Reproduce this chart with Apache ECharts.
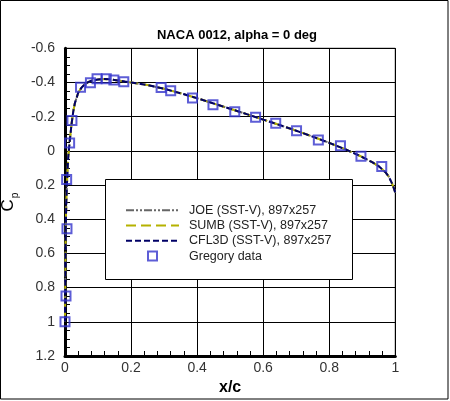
<!DOCTYPE html>
<html>
<head>
<meta charset="utf-8">
<script src="https://cdn.jsdelivr.net/npm/echarts@6/dist/echarts.min.js"></script>
<style>
  html, body { margin: 0; padding: 0; background: #fff; }
  #chart { width: 450px; height: 401px; }
</style>
</head>
<body>
<div id="chart"></div>
<script>
// CFD surface pressure, NACA 0012 at alpha = 0
const xCurve = [0, 0.0005, 0.001, 0.002, 0.003, 0.004, 0.005, 0.0075, 0.01, 0.0125, 0.015, 0.02, 0.025, 0.03,
    0.04, 0.05, 0.06, 0.07, 0.08, 0.09, 0.1, 0.12, 0.14, 0.16, 0.18, 0.2, 0.25, 0.3, 0.35, 0.4, 0.45, 0.5,
    0.55, 0.6, 0.65, 0.7, 0.75, 0.8, 0.85, 0.9, 0.93, 0.95, 0.97, 0.98, 0.99, 0.995, 1];
const cpJoe = [1.0, 0.88, 0.76, 0.52, 0.38, 0.3, 0.24, 0.12, 0.03, -0.02, -0.07, -0.16, -0.23, -0.28,
    -0.34, -0.37, -0.39, -0.402, -0.41, -0.415, -0.418, -0.42, -0.418, -0.412, -0.406, -0.4, -0.385, -0.363, -0.337, -0.308, -0.277, -0.246,
    -0.215, -0.183, -0.151, -0.118, -0.083, -0.047, -0.008, 0.036, 0.066, 0.09, 0.125, 0.15, 0.19, 0.215, 0.245];
const cpSumb = [1.0, 0.88, 0.76, 0.52, 0.38, 0.3, 0.24, 0.12, 0.03, -0.02, -0.07, -0.16, -0.23, -0.28,
    -0.34, -0.37, -0.39, -0.402, -0.41, -0.415, -0.418, -0.42, -0.418, -0.412, -0.406, -0.4, -0.385, -0.363, -0.337, -0.308, -0.277, -0.246,
    -0.215, -0.183, -0.151, -0.118, -0.083, -0.047, -0.008, 0.036, 0.066, 0.09, 0.125, 0.15, 0.19, 0.215, 0.245];
const cpCfl3d = [1.0, 0.88, 0.76, 0.52, 0.38, 0.3, 0.24, 0.12, 0.03, -0.02, -0.07, -0.16, -0.23, -0.28,
    -0.34, -0.37, -0.39, -0.402, -0.41, -0.415, -0.418, -0.42, -0.418, -0.412, -0.406, -0.4, -0.385, -0.363, -0.337, -0.308, -0.277, -0.246,
    -0.215, -0.183, -0.151, -0.118, -0.083, -0.047, -0.008, 0.036, 0.066, 0.09, 0.125, 0.15, 0.19, 0.215, 0.245];

// experiment
const xGregory = [0.0, 0.003, 0.006, 0.005, 0.014, 0.021, 0.047, 0.077, 0.097, 0.125, 0.148, 0.178,
    0.291, 0.32, 0.386, 0.448, 0.514, 0.577, 0.638, 0.701, 0.767, 0.834, 0.896, 0.959];
const cpGregory = [1.0, 0.849, 0.455, 0.168, -0.046, -0.177, -0.372, -0.399, -0.422, -0.422, -0.415, -0.405,
    -0.37, -0.352, -0.309, -0.27, -0.229, -0.196, -0.161, -0.118, -0.064, -0.03, 0.032, 0.092];

const xTicks = [0, 0.2, 0.4, 0.6, 0.8, 1];
const cpTicks = [-0.6, -0.4, -0.2, 0, 0.2, 0.4, 0.6, 0.8, 1, 1.2];

const names = ['JOE (SST-V), 897x257', 'SUMB (SST-V), 897x257', 'CFL3D (SST-V), 897x257', 'Gregory data'];

const pairs = (xs, ys) => xs.map((x, i) => [x, ys[i]]);
const fmt = v => String(+v.toFixed(1));
const font = '"Liberation Sans", Arial, sans-serif';
const hideDot = { opacity: 0 };

const chart = echarts.init(document.getElementById('chart'), null, { renderer: 'canvas' });

chart.setOption({
    animation: false,
    backgroundColor: '#fff',
    title: {
        text: 'NACA 0012, alpha = 0 deg',
        left: 232, top: 24, textAlign: 'center',
        textStyle: { fontFamily: font, fontSize: 13, fontWeight: 'bold', color: '#000' }
    },
    grid: {
        left: 65, right: 54.7, top: 48.3, bottom: 45, containLabel: false, outerBoundsMode: 'none',
        show: true, borderColor: '#000', borderWidth: 1
    },
    xAxis: {
        type: 'value', min: xTicks[0], max: xTicks[xTicks.length - 1], interval: 0.2,
        name: 'x/c', nameLocation: 'middle', nameGap: 19,
        nameTextStyle: { fontFamily: font, fontSize: 16, fontWeight: 'bold', color: '#000' },
        axisLine: { onZero: false, lineStyle: { color: '#000', width: 3 } },
        axisTick: { inside: true, length: 7, lineStyle: { color: '#000', width: 1 } },
        minorTick: { show: true, splitNumber: 5, length: 5, lineStyle: { color: '#000', width: 1 } },
        splitLine: { show: true, lineStyle: { color: '#000', width: 1 } },
        axisLabel: { margin: 5, fontFamily: font, fontSize: 14, color: '#333', formatter: fmt }
    },
    yAxis: {
        type: 'value', min: cpTicks[0], max: cpTicks[cpTicks.length - 1], interval: 0.2, inverse: true,
        name: '{c|C}{p|p}', nameLocation: 'middle', nameGap: 46, nameRotate: 90,
        nameTextStyle: {
            fontFamily: font, color: '#000',
            rich: {
                c: { fontFamily: font, fontSize: 17, color: '#000' },
                p: { fontFamily: font, fontSize: 10, color: '#000', verticalAlign: 'bottom', padding: [0, 0, -3, 1] }
            }
        },
        axisLine: { onZero: false, lineStyle: { color: '#000', width: 3 } },
        axisTick: { inside: true, length: 7, lineStyle: { color: '#000', width: 1 } },
        minorTick: { show: true, splitNumber: 4, length: 5, lineStyle: { color: '#000', width: 1 } },
        splitLine: { show: true, lineStyle: { color: '#000', width: 1 } },
        axisLabel: { margin: 10, fontFamily: font, fontSize: 14, color: '#333', formatter: fmt }
    },
    legend: {
        orient: 'vertical', left: 125, top: 203.5, itemGap: 2, padding: 0,
        itemWidth: 53, itemHeight: 9, z: 5,
        textStyle: { fontFamily: font, fontSize: 12.5, lineHeight: 13.3, color: '#222', padding: [0, 0, 0, 5] },
        data: [
            { name: names[0], itemStyle: hideDot },
            { name: names[1], itemStyle: hideDot },
            { name: names[2], itemStyle: hideDot },
            { name: names[3], icon: 'path://M0,0L10,0L10,10L0,10Z' }
        ]
    },
    graphic: [
        { type: 'rect', z: 4, shape: { x: 105.5, y: 179.5, width: 247, height: 100 },
          style: { fill: '#fff', stroke: '#000', lineWidth: 1 } },
        { type: 'rect', z: 4, silent: true, shape: { x: 0.5, y: 0.5, width: 447.5, height: 398.5 },
          style: { fill: 'none', stroke: '#000', lineWidth: 1 } }
    ],
    series: [
        {
            name: names[0], type: 'line', data: pairs(xCurve, cpJoe), symbol: 'none', z: 2,
            lineStyle: { color: '#666', width: 2, type: [8, 2, 2, 2, 2, 2] }, itemStyle: { color: '#666' }
        },
        {
            name: names[1], type: 'line', data: pairs(xCurve, cpSumb), symbol: 'none', z: 2,
            lineStyle: { color: '#b5b200', width: 2, type: [10, 5] }, itemStyle: { color: '#b5b200' }
        },
        {
            name: names[2], type: 'line', data: pairs(xCurve, cpCfl3d), symbol: 'none', z: 3,
            lineStyle: { color: '#000066', width: 2, type: [6, 3] }, itemStyle: { color: '#000066' }
        },
        {
            name: names[3], type: 'scatter', data: pairs(xGregory, cpGregory), z: 3,
            symbol: 'rect', symbolSize: 9,
            itemStyle: { color: 'rgba(0,0,0,0)', borderColor: '#3535cc', borderWidth: 2 }
        }
    ]
});
</script>
</body>
</html>
